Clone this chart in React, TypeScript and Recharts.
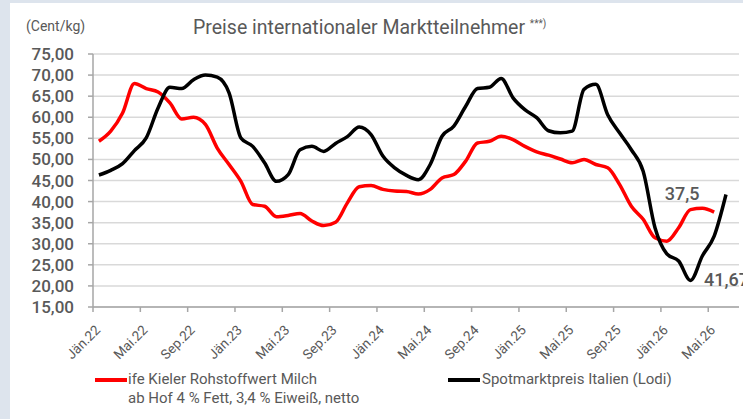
import React from 'react';
import { LineChart, Line, XAxis, YAxis, CartesianGrid, Legend } from 'recharts';

// months Jän.22 .. Jun.26
const MONTH_NAMES = ['Jän', 'Feb', 'Mär', 'Apr', 'Mai', 'Jun', 'Jul', 'Aug', 'Sep', 'Okt', 'Nov', 'Dez'];
const YEARS = ['22', '23', '24', '25', '26'];

// ife Kieler Rohstoffwert Milch (Cent/kg)
const kieler = [
  54.3, 56.7, 61.0, 68.0, 66.8, 66.0, 63.4, 59.6, 60.0, 58.3, 52.7, 48.8,
  44.8, 39.3, 38.9, 36.4, 36.7, 37.2, 35.4, 34.3, 35.1, 39.7, 43.5, 43.8,
  42.9, 42.5, 42.4, 41.8, 42.9, 45.6, 46.4, 49.6, 53.9, 54.3, 55.5, 54.7,
  53.1, 51.8, 51.0, 50.1, 49.2, 50.0, 48.8, 48.0, 44.1, 38.9, 35.8, 31.4,
  30.6, 33.8, 38.1, 38.4, 37.5,
];

// Spotmarktpreis Italien (Lodi)
const lodi = [
  46.3, 47.4, 49.0, 52.1, 55.1, 62.2, 67.1, 66.8, 68.9, 70.0, 69.5, 65.8,
  55.1, 53.1, 49.2, 44.8, 46.4, 52.3, 53.1, 51.9, 53.8, 55.4, 57.7, 55.9,
  50.8, 48.0, 46.2, 45.2, 48.8, 55.5, 57.9, 62.6, 66.8, 67.1, 69.2, 64.6,
  61.8, 59.9, 56.8, 56.3, 56.7, 66.6, 67.8, 60.6, 56.3, 52.3, 47.2, 33.8,
  27.6, 25.9, 21.3, 27.1, 31.8, 41.67,
];

const xTickLabels = [
  'Jän.22', 'Mai.22', 'Sep.22', 'Jän.23', 'Mai.23', 'Sep.23', 'Jän.24',
  'Mai.24', 'Sep.24', 'Jän.25', 'Mai.25', 'Sep.25', 'Jän.26', 'Mai.26',
];
const yTicks = [15, 20, 25, 30, 35, 40, 45, 50, 55, 60, 65, 70, 75];

const TEXT = '#595959';
const FONT = 'Roboto, "Liberation Sans", Arial, sans-serif';

const monthLabels = YEARS.flatMap((y) => MONTH_NAMES.map((m) => `${m}.${y}`));

// points sit in the middle of each month
const data = lodi.map((v, i) => ({
  x: i + 0.5,
  month: monthLabels[i],
  kieler: i < kieler.length ? kieler[i] : null,
  lodi: v,
}));

const xTicks = xTickLabels.map((_, i) => i * 4);

const fmt = (v: number) => String(v).replace('.', ',');

const XTick = (props: any) => {
  const { x, y, payload } = props;
  const label = xTickLabels[Math.round(payload.value / 4)];
  return (
    <g transform={`translate(${x + 8},${y + 17})`}>
      <text transform="rotate(-45)" textAnchor="end" fill={TEXT} fontSize={13.5} fontFamily={FONT}>
        {label}
      </text>
    </g>
  );
};

const kielerLabel = (props: any) => {
  const { x, y, index, value } = props;
  if (index !== kieler.length - 1) return null;
  return (
    <text x={x - 32} y={y - 19} textAnchor="middle" dominantBaseline="central" fill={TEXT} fontSize={18} fontWeight={500} fontFamily={FONT}>
      {fmt(value)}
    </text>
  );
};

const lodiLabel = (props: any) => {
  const { x, y, index, value } = props;
  if (index !== lodi.length - 1) return null;
  return (
    <text x={x - 22} y={y + 85} textAnchor="start" dominantBaseline="central" fill={TEXT} fontSize={18} fontWeight={500} fontFamily={FONT}>
      {fmt(value)}
    </text>
  );
};

const renderLegend = () => (
  <div style={{ position: 'relative', width: 743, height: 50, fontFamily: FONT, color: TEXT, fontSize: 15 }}>
    <div style={{ position: 'absolute', left: 95, top: 8, width: 32, height: 4, background: '#ff0000' }} />
    <div style={{ position: 'absolute', left: 128, top: 0, lineHeight: '19px' }}>
      ife Kieler Rohstoffwert Milch
      <br />
      ab Hof 4 % Fett, 3,4 % Eiweiß, netto
    </div>
    <div style={{ position: 'absolute', left: 448, top: 8, width: 32, height: 4, background: '#000000' }} />
    <div style={{ position: 'absolute', left: 482, top: 0, lineHeight: '19px' }}>Spotmarktpreis Italien (Lodi)</div>
  </div>
);

export default function App() {
  return (
    <div style={{ position: 'absolute', left: 0, top: 0, width: 743, height: 419, background: '#dde4ed', overflow: 'hidden' }}>
      <div style={{ position: 'absolute', left: 10, top: 3, right: 0, bottom: 0, background: '#ffffff' }} />
      <div style={{ position: 'absolute', left: 26, top: 18, fontFamily: FONT, fontSize: 14, color: TEXT }}>(Cent/kg)</div>
      <div style={{ position: 'absolute', left: 193, top: 16, fontFamily: FONT, fontSize: 19.5, color: TEXT, whiteSpace: 'nowrap' }}>
        Preise internationaler Marktteilnehmer <sup style={{ fontSize: 10 }}>***)</sup>
      </div>
      <div style={{ position: 'absolute', left: 0, top: 0 }}>
        <LineChart width={743} height={419} data={data} margin={{ top: 54, right: 4, bottom: 2, left: 0 }}>
          <CartesianGrid horizontal vertical={false} stroke="#d9d9d9" strokeWidth={1.5} />
          <XAxis
            dataKey="x"
            type="number"
            domain={[0, 54.6]}
            ticks={xTicks}
            interval={0}
            tick={<XTick />}
            height={60}
            tickSize={5}
            stroke="#a6a6a6"
            strokeWidth={1.5}
            allowDataOverflow
          />
          <YAxis
            type="number"
            domain={[15, 75]}
            ticks={yTicks}
            interval={0}
            width={93}
            tickSize={5}
            tickMargin={14}
            tickFormatter={(v: number) => v.toFixed(2).replace('.', ',')}
            tick={{ fill: TEXT, fontSize: 17, fontWeight: 500, fontFamily: FONT }}
            stroke="#a6a6a6"
            strokeWidth={1.5}
          />
          <Line
            type="monotone"
            dataKey="kieler"
            name="ife Kieler Rohstoffwert Milch"
            stroke="#ff0000"
            strokeWidth={3.5}
            dot={false}
            connectNulls={false}
            isAnimationActive={false}
            label={kielerLabel}
          />
          <Line
            type="monotone"
            dataKey="lodi"
            name="Spotmarktpreis Italien (Lodi)"
            stroke="#000000"
            strokeWidth={3.5}
            dot={false}
            isAnimationActive={false}
            label={lodiLabel}
          />
          <Legend content={renderLegend} wrapperStyle={{ left: 0, top: 370, width: 743 }} />
        </LineChart>
      </div>
    </div>
  );
}
